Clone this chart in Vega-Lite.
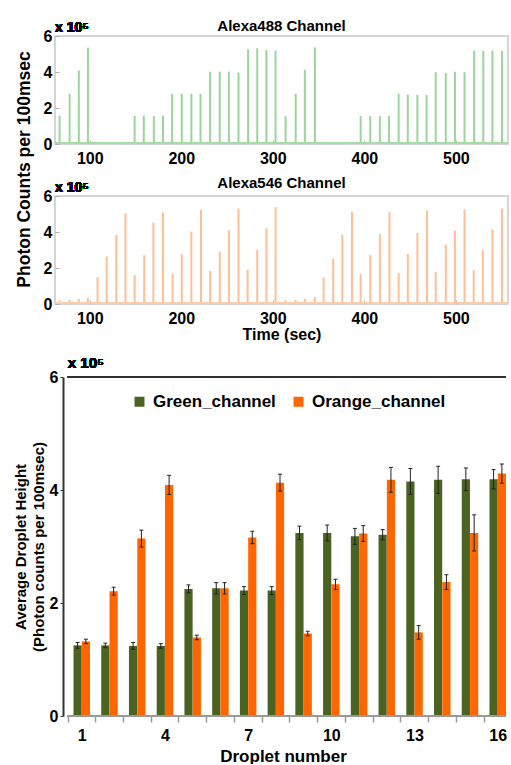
{
  "$schema": "https://vega.github.io/schema/vega-lite/v6.json",
  "padding": {"left": 13, "top": 18, "right": 0, "bottom": 0},
  "config": {
    "font": "Liberation Sans",
    "axis": {"labelFont": "Liberation Sans", "titleFont": "Liberation Sans", "labelFontWeight": "bold", "titleFontWeight": "bold", "labelColor": "#000", "titleColor": "#000", "grid": false, "labelOverlap": false},
    "title": {"font": "Liberation Sans", "fontWeight": "bold", "color": "#000"},
    "legend": {"labelFont": "Liberation Sans"}
  },
  "datasets": {
    "green": [
      {"t": 67, "h": 1.57}, {"t": 78, "h": 2.79}, {"t": 88, "h": 4.08}, {"t": 98, "h": 5.35},
      {"t": 149, "h": 1.57}, {"t": 159, "h": 1.57}, {"t": 170, "h": 1.55}, {"t": 180, "h": 1.57},
      {"t": 190, "h": 2.79}, {"t": 200.5, "h": 2.79}, {"t": 211, "h": 2.79}, {"t": 221, "h": 2.79},
      {"t": 231.5, "h": 4.02}, {"t": 242, "h": 4.02}, {"t": 252, "h": 4.02}, {"t": 262.5, "h": 3.97},
      {"t": 273, "h": 5.26}, {"t": 283, "h": 5.32}, {"t": 293, "h": 5.22}, {"t": 303, "h": 5.19},
      {"t": 314, "h": 1.55}, {"t": 325, "h": 2.79}, {"t": 335, "h": 4.12}, {"t": 346, "h": 5.37},
      {"t": 396, "h": 1.55}, {"t": 406.5, "h": 1.55}, {"t": 417, "h": 1.55}, {"t": 427, "h": 1.55},
      {"t": 437.5, "h": 2.79}, {"t": 447.5, "h": 2.75}, {"t": 458, "h": 2.73}, {"t": 468, "h": 2.73},
      {"t": 478, "h": 3.99}, {"t": 489, "h": 3.95}, {"t": 499, "h": 4.02}, {"t": 509.5, "h": 3.99},
      {"t": 520, "h": 5.19}, {"t": 530, "h": 5.17}, {"t": 540, "h": 5.19}, {"t": 550.5, "h": 5.17}
    ],
    "orange": [
      {"t": 67, "h": 0.2}, {"t": 78, "h": 0.24}, {"t": 88, "h": 0.28}, {"t": 98, "h": 0.35},
      {"t": 108.5, "h": 1.5}, {"t": 118.5, "h": 2.64}, {"t": 129, "h": 3.84}, {"t": 139, "h": 5.04},
      {"t": 149, "h": 1.6}, {"t": 159.5, "h": 2.71}, {"t": 169.5, "h": 4.52}, {"t": 180, "h": 5.09},
      {"t": 190.5, "h": 1.66}, {"t": 200.5, "h": 2.77}, {"t": 211, "h": 4.02}, {"t": 221.5, "h": 5.22},
      {"t": 231.5, "h": 1.83}, {"t": 242, "h": 2.92}, {"t": 252, "h": 4.1}, {"t": 262.5, "h": 5.3},
      {"t": 272.5, "h": 1.9}, {"t": 283, "h": 3.0}, {"t": 293, "h": 4.2}, {"t": 303, "h": 5.39},
      {"t": 314, "h": 0.2}, {"t": 325, "h": 0.22}, {"t": 335, "h": 0.28}, {"t": 346, "h": 0.37},
      {"t": 355.5, "h": 1.48}, {"t": 366, "h": 2.51}, {"t": 376, "h": 3.86}, {"t": 386.5, "h": 5.13},
      {"t": 396, "h": 1.66}, {"t": 406.5, "h": 2.71}, {"t": 417, "h": 3.88}, {"t": 427.5, "h": 5.11},
      {"t": 437.5, "h": 1.72}, {"t": 447.5, "h": 2.79}, {"t": 458, "h": 3.95}, {"t": 468.5, "h": 5.19},
      {"t": 478, "h": 1.79}, {"t": 489, "h": 3.29}, {"t": 499, "h": 4.08}, {"t": 509.5, "h": 5.26},
      {"t": 519.5, "h": 1.9}, {"t": 529.5, "h": 3.0}, {"t": 540, "h": 4.15}, {"t": 550.5, "h": 5.3}
    ],
    "droplets": [
      {"droplet": 1, "g": 1.25, "g_lo": 1.20, "g_hi": 1.30, "o": 1.32, "o_lo": 1.28, "o_hi": 1.36},
      {"droplet": 2, "g": 1.25, "g_lo": 1.21, "g_hi": 1.29, "o": 2.21, "o_lo": 2.14, "o_hi": 2.28},
      {"droplet": 3, "g": 1.24, "g_lo": 1.18, "g_hi": 1.30, "o": 3.14, "o_lo": 2.99, "o_hi": 3.29},
      {"droplet": 4, "g": 1.24, "g_lo": 1.20, "g_hi": 1.28, "o": 4.09, "o_lo": 3.92, "o_hi": 4.26},
      {"droplet": 5, "g": 2.25, "g_lo": 2.18, "g_hi": 2.32, "o": 1.39, "o_lo": 1.35, "o_hi": 1.43},
      {"droplet": 6, "g": 2.26, "g_lo": 2.16, "g_hi": 2.36, "o": 2.26, "o_lo": 2.16, "o_hi": 2.36},
      {"droplet": 7, "g": 2.22, "g_lo": 2.15, "g_hi": 2.29, "o": 3.16, "o_lo": 3.05, "o_hi": 3.27},
      {"droplet": 8, "g": 2.22, "g_lo": 2.15, "g_hi": 2.29, "o": 4.13, "o_lo": 3.98, "o_hi": 4.28},
      {"droplet": 9, "g": 3.24, "g_lo": 3.12, "g_hi": 3.36, "o": 1.46, "o_lo": 1.42, "o_hi": 1.50},
      {"droplet": 10, "g": 3.24, "g_lo": 3.10, "g_hi": 3.38, "o": 2.33, "o_lo": 2.24, "o_hi": 2.42},
      {"droplet": 11, "g": 3.18, "g_lo": 3.04, "g_hi": 3.32, "o": 3.23, "o_lo": 3.09, "o_hi": 3.37},
      {"droplet": 12, "g": 3.21, "g_lo": 3.12, "g_hi": 3.30, "o": 4.18, "o_lo": 3.96, "o_hi": 4.40},
      {"droplet": 13, "g": 4.15, "g_lo": 3.92, "g_hi": 4.38, "o": 1.48, "o_lo": 1.36, "o_hi": 1.60},
      {"droplet": 14, "g": 4.18, "g_lo": 3.94, "g_hi": 4.42, "o": 2.37, "o_lo": 2.24, "o_hi": 2.50},
      {"droplet": 15, "g": 4.19, "g_lo": 3.99, "g_hi": 4.39, "o": 3.24, "o_lo": 2.92, "o_hi": 3.56},
      {"droplet": 16, "g": 4.19, "g_lo": 4.02, "g_hi": 4.36, "o": 4.29, "o_lo": 4.12, "o_hi": 4.46}
    ]
  },
  "columns": 1,
  "spacing": 13,
  "concat": [
    {
      "vconcat": [
        {
          "width": 453, "height": 108,
          "title": {"text": "Alexa488 Channel", "anchor": "middle", "offset": -25, "baseline": "alphabetic", "fontSize": 15},
          "data": {"name": "green"},
          "view": {"stroke": "#c8c8c8", "strokeWidth": 1.5},
          "layer": [
            {"mark": {"type": "rule", "color": "#9dd49d", "strokeWidth": 2},
             "encoding": {
               "x": {"field": "t", "type": "quantitative", "scale": {"domain": [62, 557], "nice": false, "zero": false},
                     "axis": {"values": [100, 200, 300, 400, 500], "tickCount": 100, "format": "d", "title": null, "domain": false, "tickSize": -4, "tickColor": "#b0b0b0", "labelPadding": 10, "labelFontSize": 16, "labelOverlap": false}},
               "y": {"field": "h", "type": "quantitative", "scale": {"domain": [0, 6], "nice": false},
                     "axis": {"values": [0, 2, 4, 6], "tickCount": 100, "format": "d", "title": "Photon Counts per 100msec", "titleFontSize": 17.5, "titleY": 133, "titlePadding": 10, "domain": false, "tickSize": -4, "tickColor": "#b0b0b0", "labelPadding": 7, "labelFontSize": 16, "labelOverlap": false, "labelFlush": false}},
               "y2": {"datum": 0.04}
             }},
            {"mark": {"type": "rule", "color": "#a6dba6", "strokeWidth": 1},
             "encoding": {"y": {"datum": 0.04, "type": "quantitative"}}},
            {"mark": {"type": "text", "text": "x 10⁵", "align": "left", "baseline": "alphabetic", "dy": -4, "fontSize": 14, "fontWeight": "bold"},
             "encoding": {"x": {"datum": 62, "type": "quantitative"}, "y": {"datum": 6, "type": "quantitative"}}}
          ]
        },
        {
          "width": 453, "height": 108,
          "title": {"text": "Alexa546 Channel", "anchor": "middle", "offset": -22, "baseline": "alphabetic", "fontSize": 15},
          "data": {"name": "orange"},
          "view": {"stroke": "#c8c8c8", "strokeWidth": 1.5},
          "layer": [
            {"mark": {"type": "rule", "color": "#ffbe96", "strokeWidth": 2},
             "encoding": {
               "x": {"field": "t", "type": "quantitative", "scale": {"domain": [62, 557], "nice": false, "zero": false},
                     "axis": {"values": [100, 200, 300, 400, 500], "tickCount": 100, "format": "d", "title": "Time (sec)", "titleFontSize": 16, "titlePadding": 0, "domain": false, "tickSize": -4, "tickColor": "#b0b0b0", "labelPadding": 10, "labelFontSize": 16, "labelOverlap": false}},
               "y": {"field": "h", "type": "quantitative", "scale": {"domain": [0, 6], "nice": false},
                     "axis": {"values": [0, 2, 4, 6], "tickCount": 100, "format": "d", "title": null, "domain": false, "tickSize": -4, "tickColor": "#b0b0b0", "labelPadding": 7, "labelFontSize": 16, "labelOverlap": false, "labelFlush": false}},
               "y2": {"datum": 0.08}
             }},
            {"mark": {"type": "rule", "color": "#ffccaa", "strokeWidth": 1},
             "encoding": {"y": {"datum": 0.08, "type": "quantitative"}}},
            {"mark": {"type": "text", "text": "x 10⁵", "align": "left", "baseline": "alphabetic", "dy": -4, "fontSize": 14, "fontWeight": "bold"},
             "encoding": {"x": {"datum": 62, "type": "quantitative"}, "y": {"datum": 6, "type": "quantitative"}}}
          ]
        }
      ],
      "spacing": 52,
      "bounds": "flush"
    },
    {
      "width": 456, "height": 339,
      "data": {"name": "droplets"},
      "view": {"stroke": null},
      "resolve": {"axis": {"x": "independent"}},
      "layer": [
        {"mark": {"type": "bar", "width": 8.2, "xOffset": -4.1, "clip": true},
         "encoding": {
           "x": {"field": "droplet", "type": "quantitative", "scale": {"domain": [0.2176, 16.3], "nice": false, "zero": false},
                 "axis": {"orient": "bottom", "values": [1, 4, 7, 10, 13, 16], "tickCount": 100, "format": "d", "title": "Droplet number", "titleFontSize": 17, "titlePadding": 5, "labelFontSize": 16, "labelPadding": 11,
                          "domain": false, "ticks": false, "labelFlush": false, "labelOverlap": false}},
           "y": {"field": "g", "type": "quantitative", "scale": {"domain": [0, 6], "nice": false},
                 "axis": {"values": [0, 2, 4, 6], "tickCount": 100, "format": "d", "offset": -8, "title": ["Average Droplet Height", "(Photon counts per 100msec)"], "titleFontSize": 15, "titleLineHeight": 18, "titlePadding": 3,
                          "domainColor": "#333333", "domainWidth": 2, "tickColor": "#333333", "tickSize": 3, "labelPadding": 2, "labelFontSize": 16, "labelOverlap": false}},
           "color": {"datum": "Green_channel", "type": "nominal", "scale": {"domain": ["Green_channel", "Orange_channel"], "range": ["#4b6322", "#ff6600"]},
                     "legend": {"orient": "none", "legendX": 76, "legendY": 357, "direction": "horizontal", "title": null, "symbolType": "square", "symbolSize": 100, "symbolStrokeWidth": 0, "labelFontSize": 17, "labelFontWeight": "bold", "columnPadding": 14, "labelOffset": 5, "padding": 0}}
         }},
        {"mark": {"type": "bar", "width": 8.2, "xOffset": 4.2, "clip": true},
         "encoding": {
           "x": {"field": "droplet", "type": "quantitative",
                 "axis": {"orient": "bottom", "values": [1,2,3,4,5,6,7,8,9,10,11,12,13,14,15,16], "tickCount": 100, "tickOffset": -14.18, "labels": false, "title": null, "domain": false,
                          "tickColor": "#999999", "tickWidth": 1.5, "tickSize": 6}},
           "y": {"field": "o", "type": "quantitative"},
           "color": {"datum": "Orange_channel", "type": "nominal"}
         }},
        {"mark": {"type": "rule", "xOffset": -4.1, "color": "#222222", "strokeWidth": 1, "clip": true},
         "encoding": {"x": {"field": "droplet", "type": "quantitative", "axis": null}, "y": {"field": "g_lo", "type": "quantitative"}, "y2": {"field": "g_hi"}}},
        {"mark": {"type": "rule", "xOffset": 4.2, "color": "#222222", "strokeWidth": 1, "clip": true},
         "encoding": {"x": {"field": "droplet", "type": "quantitative", "axis": null}, "y": {"field": "o_lo", "type": "quantitative"}, "y2": {"field": "o_hi"}}},
        {"transform": [{"fold": ["g_lo", "g_hi"], "as": ["k", "v"]}],
         "mark": {"type": "tick", "orient": "horizontal", "size": 4, "thickness": 1, "xOffset": -4.1, "color": "#222222", "opacity": 1, "clip": true},
         "encoding": {"x": {"field": "droplet", "type": "quantitative", "axis": null}, "y": {"field": "v", "type": "quantitative"}}},
        {"transform": [{"fold": ["o_lo", "o_hi"], "as": ["k", "v"]}],
         "mark": {"type": "tick", "orient": "horizontal", "size": 4, "thickness": 1, "xOffset": 4.2, "color": "#222222", "opacity": 1, "clip": true},
         "encoding": {"x": {"field": "droplet", "type": "quantitative", "axis": null}, "y": {"field": "v", "type": "quantitative"}}},
        {"mark": {"type": "rule", "color": "#333333", "strokeWidth": 2},
         "encoding": {"x": {"datum": 0.5, "type": "quantitative", "axis": null}, "x2": {"datum": 16.3}, "y": {"datum": 6, "type": "quantitative"}}},
        {"mark": {"type": "rule", "color": "#999999", "strokeWidth": 2},
         "encoding": {"x": {"datum": 0.5, "type": "quantitative", "axis": null}, "x2": {"datum": 16.3}, "y": {"datum": 0, "type": "quantitative"}}},
        {"mark": {"type": "text", "text": "x 10⁵", "align": "left", "baseline": "alphabetic", "dx": 0, "dy": -9, "fontSize": 15, "fontWeight": "bold"},
         "encoding": {"x": {"datum": 0.5, "type": "quantitative", "axis": null}, "y": {"datum": 6, "type": "quantitative"}}}
      ]
    }
  ]
}
